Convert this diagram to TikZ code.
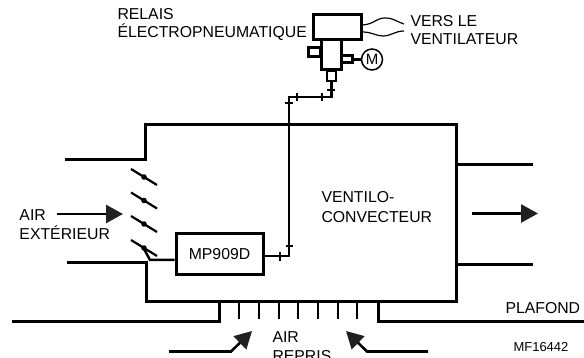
\documentclass[tikz,border=0pt]{standalone}
\usepackage{fontspec}
\setmainfont{Liberation Sans}
\usepackage{tikz}
\usetikzlibrary{positioning}
\usetikzlibrary{arrows.meta}
\definecolor{encre}{HTML}{231F20}
\tikzset{every picture/.style={line width=1pt},
  duct/.style={line width=3pt,miter limit=10},
  pipe/.style={line width=2.5pt},
  tick/.style={line width=2pt},
  slat/.style={line width=2.2pt},
  grille/.style={line width=1.8pt},
  wire/.style={line width=1.2pt},
  flow/.style={line width=2.6pt,-{Triangle[length=17pt,width=18pt,color=encre]}},
  part/.style={draw,line width=3pt,inner sep=0pt},
  label/.style={inner sep=0pt,anchor=base west,font=\fontsize{15.8}{18}\selectfont}}
\begin{document}
\begin{tikzpicture}[x=1pt,y=-1pt]
\useasboundingbox (0,0) rectangle (584,358);
\fill[white] (0,0) rectangle (584,358);
% relais
\node (relais) at (337,27.5) [part, minimum width=48pt, minimum height=25pt] {};
\node (corps) at (331,55) [part, minimum width=20pt, minimum height=30pt] {};
\node (purge) at (314,52.5) [part, minimum width=12pt, minimum height=9pt] {};
\node (sortie) at (346.5,59.5) [part, minimum width=11pt, minimum height=7pt] {};
\node (moteur) [right of = sortie, node distance = 25.5pt, circle, draw, line width=1.5pt, minimum size=21pt, inner sep=0pt, font=\fontsize{15}{16}\selectfont] {M};
\node (raccord) at (331.5,76) [part, minimum width=9pt, minimum height=10pt, line width=2.5pt] {};
\draw[pipe] (sortie) -- (moteur);
\coordinate (finA) at (404,24);
\coordinate (finB) at (404,31);
\draw[wire] ([yshift=2.5pt]relais.east) .. controls (375,24) and (376,18) .. (385,18) .. controls (394,18) and (397,22) .. (finA);
\draw[wire] ([yshift=-4.5pt]relais.east) .. controls (372,32) and (376,36) .. (383,36) .. controls (391,36) and (395,31) .. (finB);
% conduit
\draw[duct] (65,160) -- (145.5,160) -- (145.5,125) -- (456.5,125) -- (456.5,302) -- (146,302) -- (146,263) -- (67,263);
\draw[duct] (456.5,165) -- (533,165);
\draw[duct] (456.5,265) -- (533,265);
\draw[duct] (12,321) -- (219,321) -- (219,302);
\draw[duct] (584,321) -- (378,321) -- (378,302);
\foreach \x in {239,259,279,298,318,338,357}
  \draw[grille] (\x,302) -- (\x,319);
% volets
\foreach \y in {177,200.5,224,248} {
  \draw[slat] (131,\y-8) -- (157,\y+8);
  \fill (144,\y) circle (2.8pt);
}
% regulateur
\node (mp) at (219.5,254.5) [part, minimum width=87pt, minimum height=41pt, font=\fontsize{15.8}{18}\selectfont] {MP909D};
\coordinate (levier) at (143,247);
\coordinate (coude) at (150,260);
\draw[pipe] (levier) -- (coude) -- ([yshift=-5.5pt]mp.west);
\coordinate (pa) at (289,256);
\coordinate (pb) at (289,97);
\coordinate (pc) at (331.5,97);
\draw[pipe] ([yshift=-1.5pt]mp.east) -- (pa) -- (pb) -- (pc) -- (raccord.south);
\draw[tick] (280,252) -- (280,261);
\draw[tick] (285.5,246) -- (293,246);
\draw[tick] (285,103) -- (293,103);
\draw[tick] (297,93) -- (297,101);
\draw[tick] (322,93) -- (322,101);
\draw[tick] (327,90) -- (334.5,90);
% fleches
\draw[flow] (57,214) -- (123,214);
\draw[flow] (472,213.5) -- (538,213.5);
\draw[flow] (169,351.5) -- (231,351.5) -- (252,331);
\draw[flow] (428,351.5) -- (367,351.5) -- (346,331);
% textes
\node (relaisA) at (117,20) [label] {RELAIS};
\node (relaisB) at (117,38) [label] {ÉLECTROPNEUMATIQUE};
\node (versA) at (410,27) [label] {VERS LE};
\node (versB) at (410,45) [label] {VENTILATEUR};
\node (ventiloA) at (321,203) [label] {VENTILO-};
\node (ventiloB) at (321,223) [label] {CONVECTEUR};
\node (airA) at (19,221) [label] {AIR};
\node (airB) at (19,240) [label] {EXTÉRIEUR};
\node (reprisA) at (272,342) [label] {AIR};
\node (reprisB) at (272,361) [label] {REPRIS};
\node (plafond) at (505,313) [label] {PLAFOND};
\node (ref) at (513,351) [label, font=\fontsize{13}{15}\selectfont] {MF16442};
\end{tikzpicture}
\end{document}
